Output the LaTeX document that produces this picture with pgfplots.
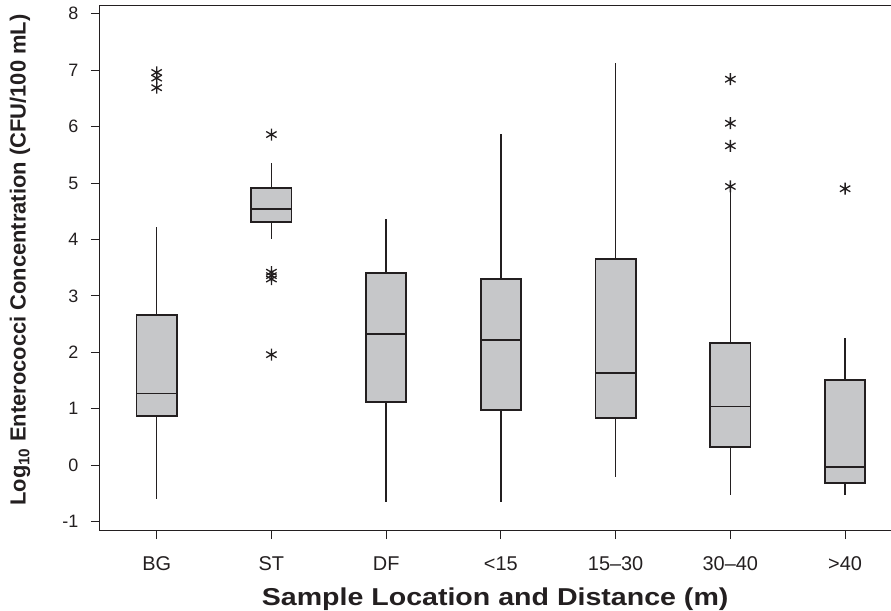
\documentclass[border=0pt]{standalone}
\usepackage{fontspec}
\setmainfont{Liberation Sans}
\usepackage{graphicx}
\usepackage{pgfplots}
\pgfplotsset{compat=1.18}
\usepgfplotslibrary{statistics}
\definecolor{boxgray}{HTML}{C6C7C9}
\definecolor{ink}{HTML}{231F20}
\pgfplotsset{outl/.style={ink, solid, mark=asterisk, mark size=6bp, mark options={solid, draw=ink, line width=1.3bp}}}
\begin{document}
\begin{tikzpicture}
\begin{axis}[
  name=ax,
  scale only axis,
  width=791.7bp, height=525.4bp,
  xmin=-0.5, xmax=6.4, ymin=-1.16, ymax=8.15,
  axis x line*=bottom, axis y line*=left,
  clip=false,
  xtick={0,...,6},
  xticklabels={BG,ST,DF,{<15},{15–30},{30–40},{>40}},
  ytick={-1,0,...,8},
  tick align=outside, major tick length=8.5bp,
  tick style={ink, line width=1bp},
  axis line style={ink, line width=1.2bp},
  /pgf/number format/assume math mode=true,
  yticklabel style={font=\fontsize{18}{18}\selectfont, text=ink, xshift=-9bp},
  xticklabel style={font=\fontsize{20}{20}\selectfont, text=ink, yshift=-14bp},
  xlabel={\scalebox{1.17}[1]{\textbf{Sample Location and Distance (m)}}},
  ylabel={\textbf{Log\textsubscript{10} Enterococci Concentration (CFU/100 mL)}},
  xlabel style={font=\fontsize{24.5}{24.5}\selectfont, text=ink, at={(axis description cs:0.5,-0.13)}, anchor=center},
  ylabel style={font=\fontsize{22}{22}\selectfont, text=ink, at={(axis description cs:-0.1,0.515)}, anchor=center},
  boxplot/draw direction=y,
  boxplot/every box/.style={draw=ink, fill=boxgray, line width=1.8bp},
  boxplot/every median/.style={draw=ink, line width=1.8bp},
  boxplot/every whisker/.style={draw=ink, line width=1.4bp},
  boxplot/box extend=0.35,
  boxplot/whisker extend=0,
]
% BG
\addplot[boxplot prepared={draw position=0, lower whisker=-0.59, lower quartile=0.87, median=1.27, upper quartile=2.66, upper whisker=4.22}, outl]
  table[row sep=\\, y index=0] {6.96\\ 6.86\\ 6.69\\};
% ST
\addplot[boxplot prepared={draw position=1, lower whisker=4.01, lower quartile=4.31, median=4.54, upper quartile=4.91, upper whisker=5.35}, outl]
  table[row sep=\\, y index=0] {5.86\\ 3.42\\ 3.36\\ 3.30\\ 1.96\\};
% DF
\addplot[boxplot prepared={draw position=2, lower whisker=-0.645, lower quartile=1.12, median=2.32, upper quartile=3.41, upper whisker=4.37}, outl]
  coordinates {};
% <15
\addplot[boxplot prepared={draw position=3, lower whisker=-0.645, lower quartile=0.98, median=2.22, upper quartile=3.30, upper whisker=5.87}, outl]
  coordinates {};
% 15-30
\addplot[boxplot prepared={draw position=4, lower whisker=-0.21, lower quartile=0.83, median=1.64, upper quartile=3.65, upper whisker=7.12}, outl]
  coordinates {};
% 30-40
\addplot[boxplot prepared={draw position=5, lower whisker=-0.53, lower quartile=0.32, median=1.04, upper quartile=2.17, upper whisker=4.92}, outl]
  table[row sep=\\, y index=0] {6.84\\ 6.06\\ 5.66\\ 4.94\\};
% >40
\addplot[boxplot prepared={draw position=6, lower whisker=-0.53, lower quartile=-0.32, median=-0.03, upper quartile=1.51, upper whisker=2.25}, outl]
  table[row sep=\\, y index=0] {4.90\\};
\draw[ink, line width=1.2bp] (rel axis cs:0,1) -- (rel axis cs:1,1);
\end{axis}
\pgfresetboundingbox
\path[use as bounding box] ([xshift=-99.3bp,yshift=-80.3bp]ax.south west) rectangle ([yshift=5.3bp]ax.north east);
\end{tikzpicture}
\end{document}
